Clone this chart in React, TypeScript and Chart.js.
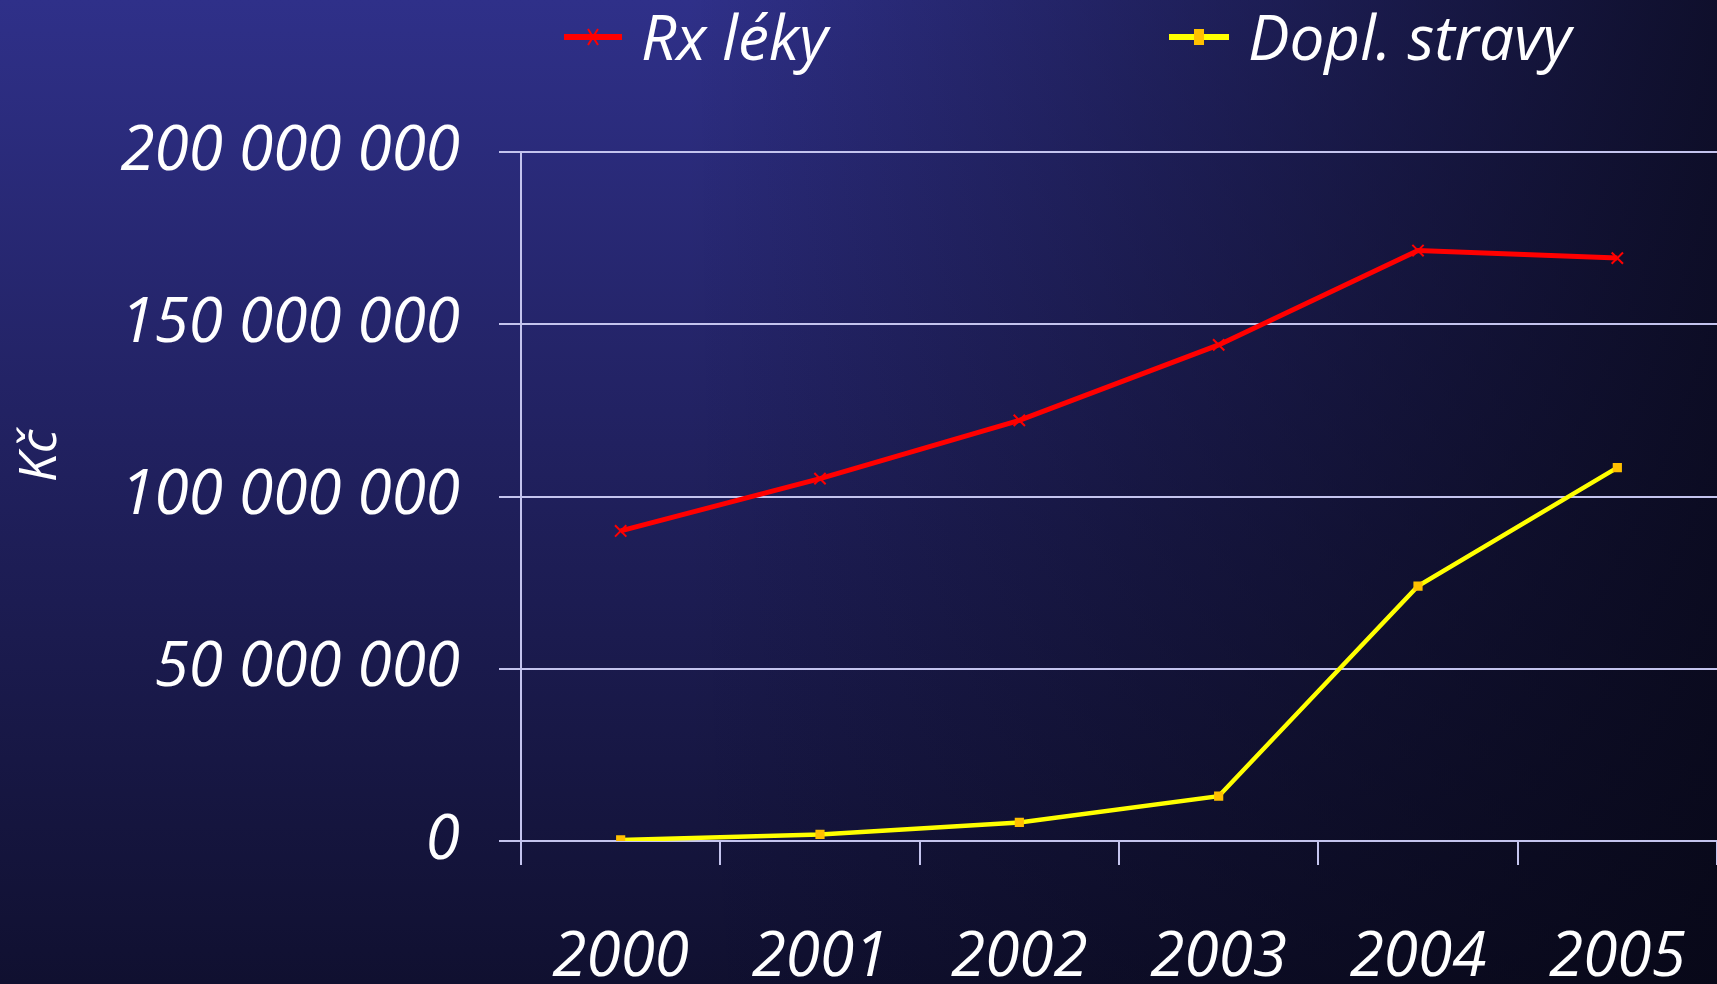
import React, { useEffect, useRef } from "react";
import { Chart, registerables } from "chart.js";
Chart.register(...registerables);

const years = ["2000", "2001", "2002", "2003", "2004", "2005"];
const rxLeky = [90000000, 105200000, 122100000, 144000000, 171400000, 169200000];
const doplStravy = [300000, 1900000, 5400000, 13000000, 74000000, 108400000];
const seriesNames = ["Rx léky", "Dopl. stravy"];
const yTitle = "Kč";
const yMin = 0;
const yMax = 200000000;
const yStep = 50000000;

const W = 1717;
const H = 984;
const FONT = "'Open Sans', 'DejaVu Sans', sans-serif";
const GRID = "#c4c4ee";

const fmt = (v: number) => String(Math.round(v)).replace(/\B(?=(\d{3})+(?!\d))/g, " ");

const bgPlugin = {
  id: "bg",
  beforeDraw(chart: any) {
    const ctx = chart.ctx;
    ctx.save();
    const g = ctx.createLinearGradient(0, 0, 0, H);
    g.addColorStop(0, "#2f3089");
    g.addColorStop(0.45, "#212160");
    g.addColorStop(1, "#101030");
    ctx.fillStyle = g;
    ctx.fillRect(0, 0, W, H);
    const h = ctx.createLinearGradient(0, 0, W, 0);
    h.addColorStop(0, "rgba(6,6,18,0)");
    h.addColorStop(0.4, "rgba(6,6,18,0)");
    h.addColorStop(1, "rgba(6,6,18,0.78)");
    ctx.fillStyle = h;
    ctx.fillRect(0, 0, W, H);
    ctx.restore();
  },
};

const legendPlugin = {
  id: "customLegend",
  afterDraw(chart: any) {
    const ctx = chart.ctx;
    const items = [
      { x0: 564, x1: 622, tx: 641 },
      { x0: 1169, x1: 1229, tx: 1248 },
    ];
    chart.data.datasets.forEach((ds: any, i: number) => {
      const it = items[i];
      const y = 37;
      ctx.save();
      ctx.strokeStyle = ds.borderColor;
      ctx.lineWidth = 6;
      ctx.beginPath();
      ctx.moveTo(it.x0, y);
      ctx.lineTo(it.x1, y);
      ctx.stroke();
      const cx = (it.x0 + it.x1) / 2;
      if (ds.pointStyle === "crossRot") {
        ctx.strokeStyle = ds.pointBorderColor;
        ctx.lineWidth = 2;
        ctx.beginPath();
        ctx.moveTo(cx - 5, y - 8);
        ctx.lineTo(cx + 5, y + 8);
        ctx.moveTo(cx + 5, y - 8);
        ctx.lineTo(cx - 5, y + 8);
        ctx.stroke();
      } else {
        ctx.fillStyle = ds.pointBackgroundColor;
        ctx.fillRect(cx - 5, y - 8, 10, 16);
      }
      ctx.fillStyle = "#ffffff";
      ctx.font = `italic 62px ${FONT}`;
      ctx.textBaseline = "middle";
      ctx.textAlign = "left";
      ctx.fillText(ds.label, it.tx, 42);
      ctx.restore();
    });
  },
};

export default function App() {
  const ref = useRef<HTMLCanvasElement | null>(null);
  useEffect(() => {
    document.body.style.margin = "0";
    const canvas = ref.current!;
    const chart = new Chart(canvas, {
      type: "line",
      data: {
        labels: years,
        datasets: [
          {
            label: seriesNames[0],
            data: rxLeky,
            borderColor: "#ff0000",
            borderWidth: 5,
            pointStyle: "crossRot",
            pointRadius: 8,
            pointBorderWidth: 2,
            pointBorderColor: "#ff0000",
            pointBackgroundColor: "#ff0000",
            tension: 0,
          },
          {
            label: seriesNames[1],
            data: doplStravy,
            borderColor: "#ffff00",
            borderWidth: 4.5,
            pointStyle: "rect",
            pointRadius: 6.5,
            pointBorderWidth: 0,
            pointBorderColor: "#ffc000",
            pointBackgroundColor: "#ffc000",
            tension: 0,
          },
        ],
      },
      options: {
        responsive: false,
        animation: false,
        layout: { autoPadding: false, padding: { top: 152, right: 0, left: 0, bottom: 0 } },
        plugins: {
          legend: { display: false },
          tooltip: { enabled: false },
        },
        scales: {
          x: {
            type: "category",
            offset: true,
            grid: {
              offset: true,
              drawOnChartArea: false,
              drawTicks: true,
              tickLength: 24,
              color: GRID,
              lineWidth: 2,
            },
            border: { display: true, color: GRID, width: 2 },
            ticks: {
              color: "#ffffff",
              maxRotation: 0,
              padding: 56,
              font: { family: FONT, style: "italic", size: 62 },
            },
            afterFit: (s: any) => {
              s.height = H - 841;
              s.paddingRight = 0;
              s.paddingLeft = 0;
            },
          },
          y: {
            min: yMin,
            max: yMax,
            ticks: {
              stepSize: yStep,
              color: "#ffffff",
              padding: 39,
              font: { family: FONT, style: "italic", size: 62 },
              callback: (v: any) => fmt(Number(v)),
            },
            grid: {
              color: GRID,
              lineWidth: 2,
              drawTicks: true,
              tickLength: 22,
            },
            border: { display: true, color: GRID, width: 2 },
            title: {
              display: true,
              text: "      " + yTitle,
              color: "#ffffff",
              font: { family: FONT, style: "italic", size: 52 },
              padding: { top: 10, bottom: 0 },
            },
            afterFit: (s: any) => {
              s.width = 521;
            },
          },
        },
      },
      plugins: [bgPlugin, legendPlugin],
    } as any);
    return () => chart.destroy();
  }, []);
  return (
    <div style={{ position: "fixed", left: 0, top: 0, width: W, height: H, background: "#16163f" }}>
      <canvas ref={ref} width={W} height={H} style={{ width: W, height: H, display: "block" }} />
    </div>
  );
}
